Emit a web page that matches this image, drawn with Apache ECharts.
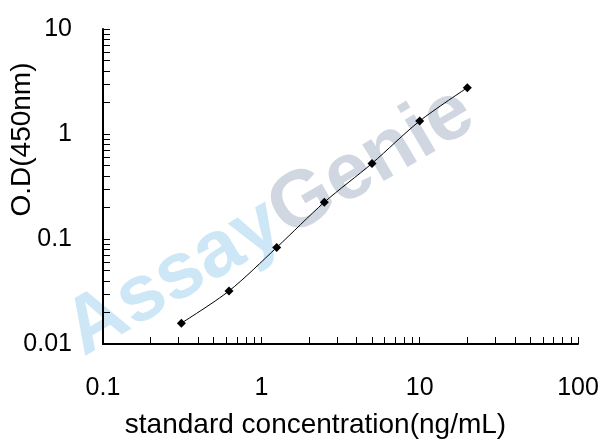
<!DOCTYPE html>
<html>
<head>
<meta charset="utf-8">
<script src="https://cdn.jsdelivr.net/npm/echarts@6/dist/echarts.min.js"></script>
<style>
html,body{margin:0;padding:0;background:#fff;}
#main{width:608px;height:447px;}
</style>
</head>
<body>
<div id="main"></div>
<script>
// standard curve data
var concentration = [0.3125, 0.625, 1.25, 2.5, 5, 10, 20];
var od450 = [0.0158, 0.032, 0.083, 0.224, 0.525, 1.33, 2.76];
var xMajor = [0.1, 1, 10, 100];
var yMajor = [0.01, 0.1, 1, 10];

// log minor ticks 1..9 per decade
function logTicks(lo, hi) {
    var out = [];
    for (var d = lo; d < hi; d *= 10) {
        for (var k = 1; k < 10; k++) out.push(+(d * k).toPrecision(3));
    }
    out.push(hi);
    return out;
}

var myChart = echarts.init(document.getElementById('main'));

var option = {
    backgroundColor: '#fff',
    animation: false,
    textStyle: { fontFamily: 'Liberation Sans, Arial, sans-serif' },
    grid: { left: 103, right: 30, top: 29, bottom: 103, outerBoundsMode: 'none', containLabel: false },
    graphic: [{
        type: 'text',
        x: 270,
        y: 222,
        rotation: 0.53,
        z: 0,
        style: {
            text: '{a|Assay}{g|Genie}',
            align: 'center',
            verticalAlign: 'middle',
            rich: {
                a: { fill: '#cde7f7', font: 'bold 80px Liberation Sans' },
                g: { fill: '#d0d7e1', font: 'bold 80px Liberation Sans' }
            }
        }
    }],
    xAxis: {
        type: 'log',
        logBase: 10,
        min: 0.1,
        max: 100,
        name: 'standard concentration(ng/mL)',
        nameLocation: 'middle',
        nameGap: 67,
        nameMoveOverlap: false,
        nameTextStyle: { fontSize: 28, color: '#000', padding: [0, 50, 0, 0] },
        axisLine: { lineStyle: { color: '#000', width: 2 } },
        axisTick: { inside: true, length: 7, lineStyle: { color: '#000' }, customValues: logTicks(0.1, 100) },
        axisLabel: { fontSize: 25, color: '#000', margin: 32, customValues: xMajor },
        splitLine: { show: false }
    },
    yAxis: {
        type: 'log',
        logBase: 10,
        min: 0.01,
        max: 10,
        name: 'O.D(450nm)',
        nameLocation: 'middle',
        nameGap: 67,
        nameMoveOverlap: false,
        nameTextStyle: { fontSize: 28, color: '#000', padding: [0, 0, 0, 94] },
        axisLine: { lineStyle: { color: '#000', width: 2 } },
        axisTick: { inside: true, length: 7, lineStyle: { color: '#000' }, customValues: logTicks(0.01, 10) },
        axisLabel: { fontSize: 25, color: '#000', margin: 31, customValues: yMajor },
        splitLine: { show: false }
    },
    series: [{
        type: 'line',
        data: concentration.map(function (c, i) { return [c, od450[i]]; }),
        smooth: 0.3,
        symbol: 'diamond',
        symbolSize: 9,
        itemStyle: { color: '#000' },
        lineStyle: { color: '#000', width: 1 },
        z: 5
    }]
};

myChart.setOption(option);
</script>
</body>
</html>
